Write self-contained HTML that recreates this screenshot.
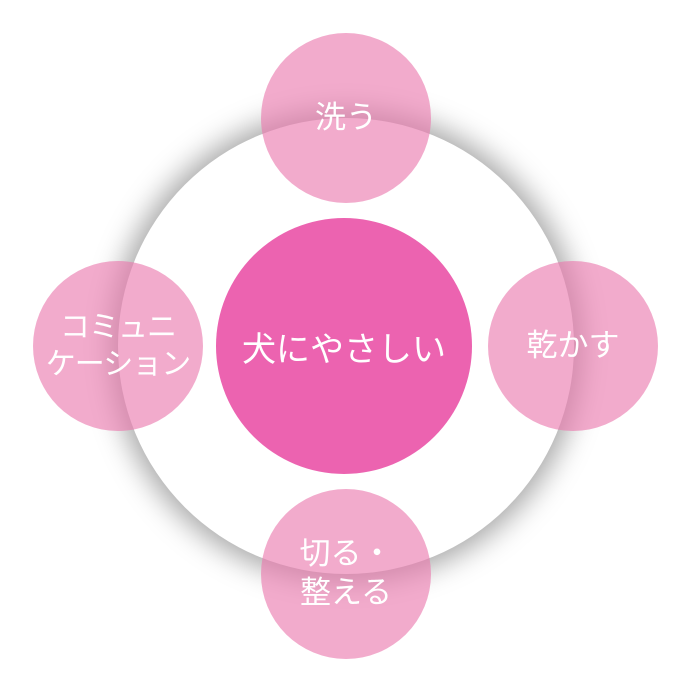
<!DOCTYPE html>
<html><head><meta charset="utf-8"><style>
html,body{margin:0;padding:0;background:#fff;}
body{width:693px;height:693px;position:relative;overflow:hidden;font-family:"Liberation Sans","Noto Sans CJK JP",sans-serif;}
.c{position:absolute;border-radius:50%;display:flex;align-items:center;justify-content:center;text-align:center;color:#fff;}
.big{left:118px;top:118px;width:456px;height:456px;background:#fff;box-shadow:0 0 28px 8px rgba(0,0,0,0.35);}
.mid{left:216px;top:218px;width:256px;height:256px;background:#ec63b0;font-size:34px;}
.s{width:170px;height:170px;background:rgba(234,120,172,0.62);font-size:31px;line-height:1.25;}
</style></head><body>
<div class="c big"></div>
<div class="c mid">犬にやさしい</div>
<div class="c s" style="left:261px;top:33px;">洗う</div>
<div class="c s" style="left:488px;top:261px;">乾かす</div>
<div class="c s" style="left:33px;top:261px;font-size:30px;letter-spacing:-1px;">コミュニ<br>ケーション</div>
<div class="c s" style="left:261px;top:489px;">切る・<br>整える</div>
</body></html>
